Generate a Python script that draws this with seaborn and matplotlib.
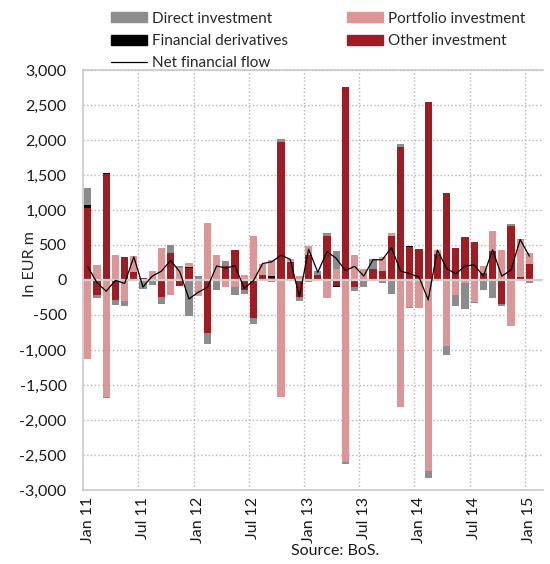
# Slovenia financial account flows - stacked monthly bars with net line
import numpy as np
import seaborn as sns
import matplotlib.pyplot as plt
from matplotlib.patches import Patch
from matplotlib.lines import Line2D
from matplotlib.ticker import FuncFormatter

# Data (EUR m), monthly Jan 11 .. Jan 15
tick_labels = ["Jan 11", "Jul 11", "Jan 12", "Jul 12", "Jan 13",
               "Jul 13", "Jan 14", "Jul 14", "Jan 15"]

direct = [250, -45, -25, -75, -75, -15, -110, -70, -100, 105, 25, -515,
          55, -155, -150, 65, -120, -45, -90, 0, -25, 50, 0, -45,
          -35, 55, 40, 260, -30, -55, -95, 145, -45, -195, 40, -20,
          0, -95, 0, -125, -155, -365, -15, -150, -255, -30, 25, 15,
          -50]
portfolio = [-1125, 215, -1665, 355, -300, 230, -20, 135, 460, -220, 175, 55,
             -215, 815, 340, -100, -100, 70, 630, 165, 230, -1665, 45, 55,
             135, -20, -255, 150, -2595, 350, 150, 0, 205, 35, -1810, -385,
             -405, -2730, 60, -950, -215, -50, -315, 100, 280, 435, -655, 520,
             165]
derivatives = [40, 0, 20, 0, 0, 0, 0, 0, 0, 0, 0, 15,
               0, 0, 15, 0, 0, 0, 0, 0, 25, 0, 0, 0,
               0, 0, 0, -20, 0, 0, 0, 0, 0, 0, 0, 15,
               0, 0, 0, 0, 0, 0, 0, 0, 0, 0, 0, 0,
               0]
other = [1030, -215, 1510, -285, 325, 115, 30, 0, -240, 390, -90, 170,
         -20, -760, 0, 200, 430, -150, -545, 70, 25, 1970, 250, -250,
         350, 75, 625, -85, 2750, -100, 0, 150, 130, 630, 1900, 470,
         445, 2540, 370, 1240, 460, 620, 545, 100, 415, -345, 775, 45,
         225]
net = [190, -40, -160, -5, -50, 330, -100, 55, 125, 280, 115, -270,
       -175, -105, 200, 170, 205, -120, -10, 235, 260, 355, 295, -240,
       440, 110, 405, 310, 135, 195, 57, 290, 288, 462, 128, 90,
       43, -285, 428, 165, 88, 200, 217, 55, 432, 55, 143, 578,
       340]

c_direct = "#8c8c8c"
c_port = "#dc9696"
c_deriv = "#000000"
c_other = "#a01c22"

sns.set_style("white")
plt.rcParams['font.family'] = ['Lato', 'DejaVu Sans']
plt.rcParams['font.size'] = 11

fig = plt.figure(figsize=(5.5, 5.64), dpi=100)
ax = fig.add_axes([0.1513, 0.1312, 0.8363, 0.7447])

x = np.arange(len(net))

# stack order from zero outwards: other, derivatives, portfolio, direct
pos_base = np.zeros(len(x))
neg_base = np.zeros(len(x))
for vals, col in [(other, c_other), (derivatives, c_deriv),
                  (portfolio, c_port), (direct, c_direct)]:
    v = np.array(vals, dtype=float)
    p = np.clip(v, 0, None)
    n = np.clip(v, None, 0)
    ax.bar(x, p, bottom=pos_base, width=0.8, color=col, zorder=2, linewidth=0)
    ax.bar(x, n, bottom=neg_base, width=0.8, color=col, zorder=2, linewidth=0)
    pos_base += p
    neg_base += n

ax.axhline(0, color="#d0d0d0", lw=1.6, zorder=3)
sns.lineplot(x=x, y=net, color="black", lw=0.9, ax=ax, zorder=4)

ax.set_xlim(-0.5, 49.5)
ax.set_ylim(-3000, 3000)
ax.set_yticks(np.arange(-3000, 3001, 500))
ax.yaxis.set_major_formatter(FuncFormatter(lambda v, p: f"{int(v):,}"))
ax.set_xticks(np.arange(0, 49, 6))
ax.set_xticklabels(tick_labels, rotation=90)
ax.set_xticks(np.arange(5.5, 49, 6), minor=True)
ax.tick_params(axis="both", length=0, colors="#1a1a1a", labelsize=11.5)
ax.tick_params(axis="y", pad=12)
ax.tick_params(axis="x", pad=5)

ax.grid(axis="y", which="major", ls=":", color="#b5b5b5", lw=1, zorder=0)
ax.grid(axis="x", which="minor", ls=":", color="#b5b5b5", lw=1, zorder=0)
ax.set_axisbelow(True)

for side in ["left", "top", "bottom", "right"]:
    ax.spines[side].set_color("#c8c8c8")
    ax.spines[side].set_linewidth(1.2)
ax.spines["right"].set_visible(False)

ax.set_ylabel("In EUR m", fontsize=11.5)
ax.yaxis.set_label_coords(-0.1, 0.538)

handles = [Patch(color=c_direct), Patch(color=c_deriv),
           Line2D([], [], color="black", lw=0.9),
           Patch(color=c_port), Patch(color=c_other)]
labels = ["Direct investment", "Financial derivatives", "Net financial flow",
          "Portfolio investment", "Other investment"]
fig.legend(handles, labels, ncol=2, frameon=False, loc="upper left",
           bbox_to_anchor=(103 / 550, 1 - 4 / 564), borderpad=0,
           handlelength=2.4, handleheight=0.65, handletextpad=0.3,
           columnspacing=3.85, labelspacing=0.55, fontsize=11)

fig.text(335 / 550, 1 - 551 / 564, "Source: BoS.", ha="center", va="center",
         fontsize=11.5, color="#1a1a1a")

fig.savefig("out.png", dpi=100)
